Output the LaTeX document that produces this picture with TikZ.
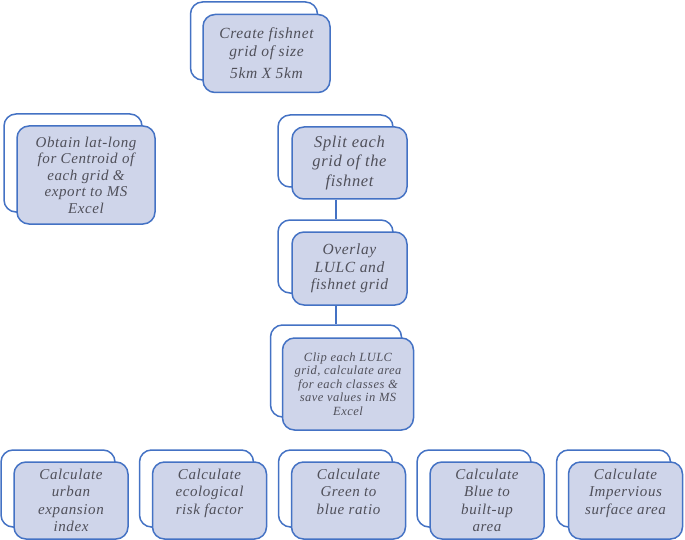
\documentclass[tikz,border=0pt]{standalone}
\usepackage{fontspec}
\setmainfont{Liberation Serif}[LetterSpace=4]
\usetikzlibrary{positioning, calc}
\definecolor{boxblue}{RGB}{68, 114, 196}
\definecolor{boxfill}{RGB}{207, 213, 234}
\definecolor{textgray}{RGB}{80, 80, 90}

\begin{document}
\begin{tikzpicture}[
    x=1pt, y=-1pt,
    backbox/.style={draw=boxblue, line width=1.5pt, rounded corners=12pt, fill=white, inner sep=0pt},
    frontbox/.style={backbox, fill=boxfill, text=textgray, align=center},
    rowbox/.style={minimum width=114pt, minimum height=77pt},
    rowtext/.style={font=\itshape\fontsize{15}{17.5}\selectfont},
    link/.style={draw=boxblue, line width=2pt}
]
\useasboundingbox (0,0) rectangle (685,540);

% Fishnet
\node[backbox, minimum width=127pt, minimum height=78pt] (createb) at (254,41) {};
\node[frontbox, minimum width=127pt, minimum height=78pt, font=\itshape\fontsize{15.5}{17.5}\selectfont] (create) at ($(createb)+(12.5,12.5)$) {Create fishnet\\grid of size\\[5pt]5km X 5km};

% Centroids
\node[backbox, minimum width=138pt, minimum height=98pt] (centroidb) at (73,163) {};
\node[frontbox, minimum width=138pt, minimum height=98pt, font=\itshape\fontsize{15}{16.5}\selectfont] (centroid) at ($(centroidb)+(13,12)$) {Obtain lat-long\\for Centroid of\\each grid \&\\export to MS\\Excel};

% Main chain
\node[backbox, minimum width=115pt, minimum height=72pt] (splitb) at (335.5,151) {};
\node[frontbox, minimum width=115pt, minimum height=72pt, font=\itshape\fontsize{16.5}{19.5}\selectfont] (split) at ($(splitb)+(14,12)$) {Split each\\grid of the\\fishnet};

\node[backbox, minimum width=115pt, minimum height=73pt] (overlayb) at (335.5,256.5) {};
\node[frontbox, minimum width=115pt, minimum height=73pt, font=\itshape\fontsize{15.5}{17.5}\selectfont] (overlay) at ($(overlayb)+(14,12)$) {Overlay\\LULC and\\fishnet grid};

\node[backbox, minimum width=131pt, minimum height=92pt] (clipb) at (336,371) {};
\node[frontbox, minimum width=131pt, minimum height=92pt, font=\itshape\fontsize{12.5}{13.5}\selectfont] (clip) at ($(clipb)+(12,13)$) {Clip each LULC\\grid, calculate area\\for each classes \&\\save values in MS\\Excel};

% Indices
\node[backbox, rowbox] (expansionb) at (58,488.5) {};
\node[frontbox, rowbox, rowtext] (expansion) at ($(expansionb)+(13,12)$) {Calculate\\urban\\expansion\\index};

\node[backbox, rowbox] (riskb) at (196.5,488.5) {};
\node[frontbox, rowbox, rowtext] (risk) at ($(riskb)+(13,12)$) {Calculate\\ecological\\risk factor\\\phantom{x}};

\node[backbox, rowbox] (greenb) at (335.5,488.5) {};
\node[frontbox, rowbox, rowtext] (green) at ($(greenb)+(13,12)$) {Calculate\\Green to\\blue ratio\\\phantom{x}};

\node[backbox, rowbox] (blueb) at (474,488.5) {};
\node[frontbox, rowbox, rowtext] (blue) at ($(blueb)+(13,12)$) {Calculate\\Blue to\\built-up\\area};

\node[backbox, rowbox] (imperviousb) at (613.5,488.5) {};
\node[frontbox, rowbox, rowtext] (impervious) at ($(imperviousb)+(12,12)$) {Calculate\\Impervious\\surface area\\\phantom{x}};

% Links
\draw[link] (splitb.south |- split.south) -- (overlayb.north);
\draw[link] (overlayb.south |- overlay.south) -- (overlayb.south |- clipb.north);

\end{tikzpicture}
\end{document}
